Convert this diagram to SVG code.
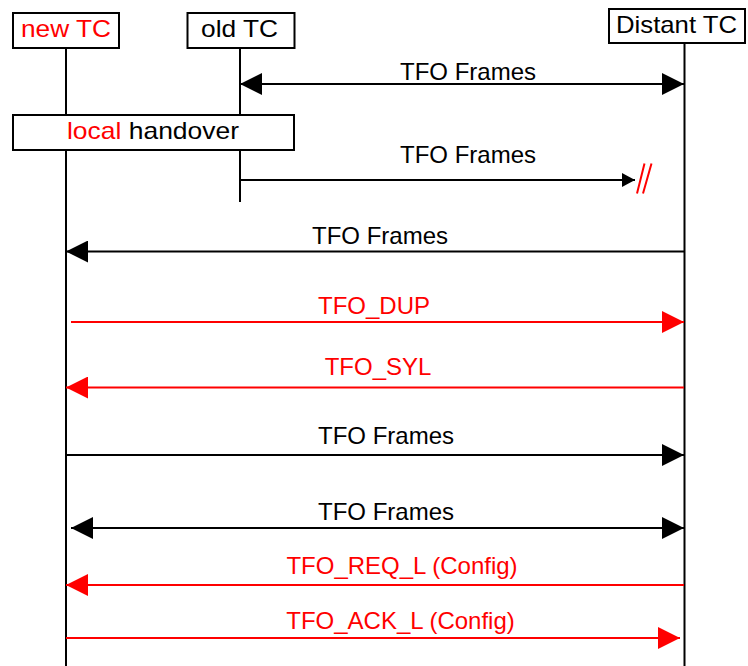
<svg xmlns="http://www.w3.org/2000/svg" width="748" height="666" viewBox="0 0 748 666">
<style>
text{font-family:"Liberation Sans",Arial,sans-serif;font-size:24px;text-anchor:middle}
.box{fill:#fff;stroke:#000;stroke-width:2}
.life{stroke:#000;stroke-width:2;fill:none}
.blk{stroke:#000;stroke-width:2;fill:none}
.red{stroke:#f00;stroke-width:2;fill:none}
.r{fill:#f00}
.k{fill:#000}
</style>
<defs>
<marker id="hk" markerUnits="userSpaceOnUse" markerWidth="22" markerHeight="22" refX="22" refY="11" orient="auto" viewBox="0 0 22 22"><path d="M0,0 L22,11 L0,22 z" fill="#000"/></marker>
<marker id="hks" markerUnits="userSpaceOnUse" markerWidth="22" markerHeight="22" refX="0" refY="11" orient="auto" viewBox="0 0 22 22"><path d="M22,0 L0,11 L22,22 z" fill="#000"/></marker>
<marker id="hr" markerUnits="userSpaceOnUse" markerWidth="22" markerHeight="22" refX="22" refY="11" orient="auto" viewBox="0 0 22 22"><path d="M0,0 L22,11 L0,22 z" fill="#f00"/></marker>
<marker id="hsmall" markerUnits="userSpaceOnUse" markerWidth="13" markerHeight="14" refX="13" refY="7" orient="auto" viewBox="0 0 13 14"><path d="M0,0 L13,7 L0,14 z" fill="#000"/></marker>
</defs>
<g id="lifelines">
<path class="life" d="M66,48 V115 M66,150 V666"/>
<path class="life" d="M240,48 V115 M240,150 V202"/>
<path class="life" d="M684.5,43 V666"/>
</g>
<g id="node-newTC">
<rect class="box" x="13" y="13" width="106" height="35"/>
<text x="66" y="37" class="r" textLength="90" lengthAdjust="spacingAndGlyphs">new TC</text>
</g>
<g id="node-oldTC">
<rect class="box" x="187.5" y="13" width="107" height="35"/>
<text x="239.5" y="37" class="k" textLength="77" lengthAdjust="spacingAndGlyphs">old TC</text>
</g>
<g id="node-distantTC">
<rect class="box" x="609" y="9" width="136" height="34"/>
<text x="676.5" y="33" class="k" textLength="121" lengthAdjust="spacingAndGlyphs">Distant TC</text>
</g>
<g id="node-localHandover">
<rect class="box" x="13" y="115" width="281" height="35"/>
<text x="153" y="139" textLength="172" lengthAdjust="spacingAndGlyphs"><tspan class="r">local</tspan><tspan class="k"> handover</tspan></text>
</g>
<g id="connectors">
<line class="blk" x1="240" y1="84" x2="684" y2="84" marker-start="url(#hks)" marker-end="url(#hk)"/>
<text x="468" y="80" class="k">TFO Frames</text>

<line class="blk" x1="240" y1="180" x2="635" y2="180" stroke-width="1.5" marker-end="url(#hsmall)"/>
<text x="468" y="163" class="k">TFO Frames</text>
<path class="red" d="M637,193.5 L644.5,163.5 M643,193.5 L651.5,163.5"/>

<line class="blk" x1="684" y1="251.5" x2="66" y2="251.5" marker-end="url(#hk)"/>
<text x="380" y="244" class="k">TFO Frames</text>

<line class="red" x1="71" y1="322" x2="684" y2="322" marker-end="url(#hr)"/>
<text x="374" y="314" class="r">TFO_DUP</text>

<line class="red" x1="684" y1="387.5" x2="66" y2="387.5" marker-end="url(#hr)"/>
<text x="378" y="375" class="r">TFO_SYL</text>

<line class="blk" x1="66" y1="455" x2="684" y2="455" marker-end="url(#hk)"/>
<text x="386" y="444" class="k">TFO Frames</text>

<line class="blk" x1="71" y1="528" x2="684" y2="528" marker-start="url(#hks)" marker-end="url(#hk)"/>
<text x="386" y="520" class="k">TFO Frames</text>

<line class="red" x1="684" y1="585" x2="66" y2="585" marker-end="url(#hr)"/>
<text x="402" y="574" class="r">TFO_REQ_L (Config)</text>

<line class="red" x1="66" y1="638" x2="680" y2="638" marker-end="url(#hr)"/>
<text x="400.5" y="629" class="r">TFO_ACK_L (Config)</text>
</g>
</svg>
